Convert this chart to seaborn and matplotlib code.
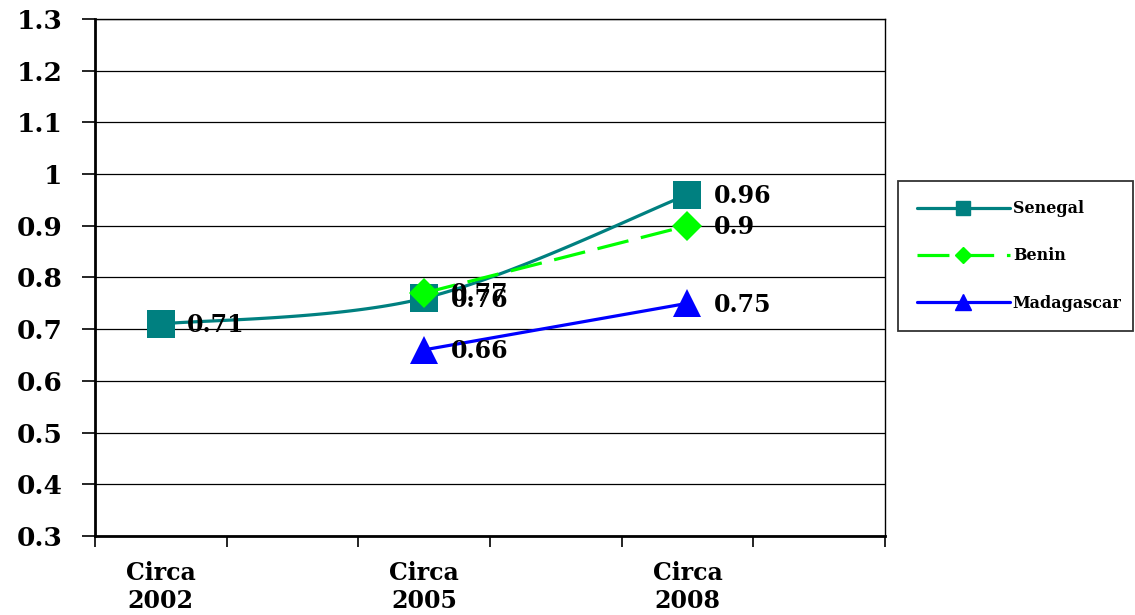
import numpy as np
import pandas as pd
import seaborn as sns
import matplotlib
matplotlib.use("Agg")
import matplotlib.pyplot as plt
from matplotlib.lines import Line2D

# Category slots along the x axis (six slots, labelled every other one)
period_pos = [0.5, 2.5, 4.5]
period_labels = ["Circa\n2002", "Circa\n2005", "Circa\n2008"]

senegal = [0.71, 0.76, 0.96]
benin = [np.nan, 0.77, 0.90]
madagascar = [np.nan, 0.66, 0.75]

y_ticks = [0.3, 0.4, 0.5, 0.6, 0.7, 0.8, 0.9, 1.0, 1.1, 1.2, 1.3]
y_tick_labels = ["0.3", "0.4", "0.5", "0.6", "0.7", "0.8", "0.9", "1", "1.1", "1.2", "1.3"]

C_SEN = "#008080"
C_BEN = "#00FF00"
C_MAD = "#0000FF"

sns.set_theme(style="white")
plt.rcParams["font.family"] = ["DejaVu Serif"]
plt.rcParams["font.weight"] = "bold"
plt.rcParams["text.color"] = "black"
plt.rcParams["xtick.color"] = "black"
plt.rcParams["ytick.color"] = "black"
plt.rcParams["xtick.labelcolor"] = "black"
plt.rcParams["ytick.labelcolor"] = "black"


def smooth_curve(xs, ys, n=60):
    """Catmull-Rom style Bezier smoothing through the given points."""
    pts = np.column_stack([xs, ys])
    out = []
    for i in range(len(pts) - 1):
        p0 = pts[i - 1] if i > 0 else pts[i]
        p1 = pts[i]
        p2 = pts[i + 1]
        p3 = pts[i + 2] if i + 2 < len(pts) else pts[i + 1]
        c1 = p1 + (p2 - p0) / 6.0
        c2 = p2 - (p3 - p1) / 6.0
        t = np.linspace(0, 1, n)[:, None]
        seg = ((1 - t) ** 3) * p1 + 3 * ((1 - t) ** 2) * t * c1 + 3 * (1 - t) * t ** 2 * c2 + t ** 3 * p2
        out.append(seg if i == 0 else seg[1:])
    seg = np.vstack(out)
    return seg[:, 0], seg[:, 1]


fig = plt.figure(figsize=(11.35, 6.15), dpi=100)
ax = fig.add_axes([0.0837, 0.1285, 0.696, 0.8407])

sx, sy = smooth_curve(np.array(period_pos), np.array(senegal))
curve = pd.DataFrame({"x": sx, "y": sy})
sns.lineplot(data=curve, x="x", y="y", ax=ax, color=C_SEN, lw=2.3, sort=False, zorder=3)
pts = pd.DataFrame({"x": period_pos, "y": senegal})
sns.scatterplot(data=pts, x="x", y="y", ax=ax, marker="s", s=400, color=C_SEN,
                linewidth=0, zorder=4)

ben = pd.DataFrame({"x": period_pos, "y": benin}).dropna()
sns.lineplot(data=ben, x="x", y="y", ax=ax, color=C_BEN, lw=2.3, zorder=5,
             marker="D", markersize=15, markeredgewidth=0)
ax.lines[-1].set_dashes([10, 4])

mad = pd.DataFrame({"x": period_pos, "y": madagascar}).dropna()
sns.lineplot(data=mad, x="x", y="y", ax=ax, color=C_MAD, lw=2.3, zorder=5,
             marker="^", markersize=20, markeredgewidth=0)

# value labels
for series in (senegal, benin, madagascar):
    for xp, v in zip(period_pos, series):
        if np.isnan(v):
            continue
        ax.annotate(f"{v:g}", (xp, v), xytext=(19, -1), textcoords="offset points",
                    ha="left", va="center", fontsize=17, fontweight="bold",
                    color="black", zorder=6)

ax.set_xlim(0, 6)
ax.set_ylim(0.3, 1.3)
ax.set_xticks(range(7))
ax.set_xticklabels([])
ax.set_xticks(period_pos, minor=True)
ax.set_xticklabels(period_labels, minor=True, fontsize=17, fontweight="bold",
                   linespacing=1.22)
ax.tick_params(axis="x", which="major", direction="out", length=8, width=1.2,
               color="black", bottom=True)
ax.tick_params(axis="x", which="minor", length=0, pad=18)
ax.set_yticks(y_ticks)
ax.set_yticklabels(y_tick_labels, fontsize=19, fontweight="bold")
ax.tick_params(axis="y", direction="out", length=9.5, width=1.2, color="black",
               left=True, pad=14)
ax.grid(axis="y", color="black", lw=0.9)
ax.grid(axis="x", visible=False)
ax.set_xlabel("")
ax.set_ylabel("")
for side, spine in ax.spines.items():
    spine.set_visible(True)
    spine.set_color("black")
    spine.set_linewidth(2.0 if side in ("left", "bottom") else 1.0)

handles = [
    Line2D([], [], color=C_SEN, lw=2.3, marker="s", ms=10),
    Line2D([], [], color=C_BEN, lw=2.3, marker="D", ms=8, dashes=[10, 4]),
    Line2D([], [], color=C_MAD, lw=2.3, marker="^", ms=11),
]
leg = fig.legend(handles, ["Senegal", "Benin", "Madagascar"],
                 loc="upper left", bbox_to_anchor=(0.791, 0.4618, 0.207, 0.244),
                 mode="expand", handlelength=5.8, handletextpad=0.2,
                 labelspacing=1.9, borderpad=1.2, borderaxespad=0, frameon=True,
                 fancybox=False, prop={"weight": "bold", "size": 11.5})
leg.get_frame().set_edgecolor("black")
leg.get_frame().set_linewidth(1.3)

fig.savefig("out.png", dpi=100)
